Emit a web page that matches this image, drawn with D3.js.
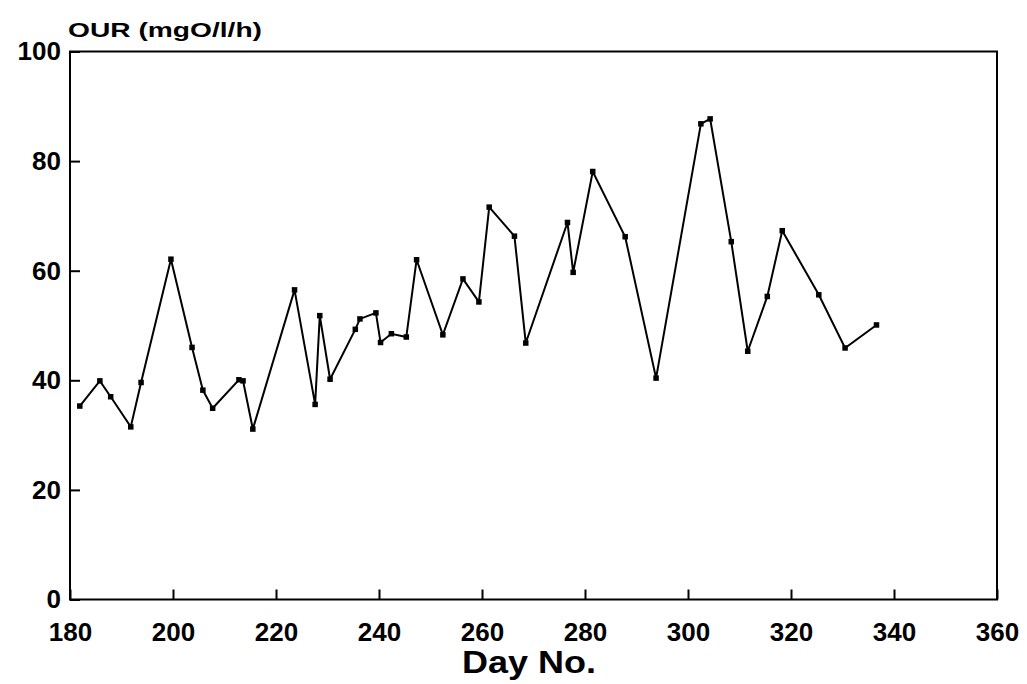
<!DOCTYPE html>
<html>
<head>
<meta charset="utf-8">
<script src="https://cdn.jsdelivr.net/npm/d3@7"></script>
<style>
  html, body { margin: 0; padding: 0; background: #fff; }
  svg { display: block; }
  .axis text { font-family: "Liberation Sans", Arial, sans-serif; font-weight: bold; font-size: 26px; fill: #000; }
  .axis path, .axis line { stroke: #000; stroke-width: 2px; }
</style>
</head>
<body>
<svg id="chart" width="1027" height="684"></svg>
<script>
// Data
const days = [181.9, 185.8, 187.9, 191.8, 193.8, 199.6, 203.7, 205.8, 207.7, 212.8, 213.6, 215.5,
  223.6, 227.6, 228.5, 230.5, 235.4, 236.3, 239.4, 240.3, 242.4, 245.3, 247.3, 252.4, 256.3, 259.4,
  261.4, 266.3, 268.5, 276.6, 277.7, 281.5, 287.8, 293.8, 302.5, 304.3, 308.4, 311.6, 315.4, 318.3,
  325.4, 330.5, 336.6];
const our = [35.3, 39.9, 37.0, 31.5, 39.6, 62.1, 46.0, 38.2, 34.9, 40.1, 39.9, 31.1, 56.5, 35.6, 51.8, 40.2,
  49.3, 51.2, 52.3, 46.9, 48.5, 47.9, 62.0, 48.3, 58.5, 54.3, 71.6, 66.3, 46.8, 68.8, 59.7, 78.1, 66.2,
  40.4, 86.8, 87.7, 65.3, 45.3, 55.3, 67.3, 55.6, 45.9, 50.1];
const xTicks = [180, 200, 220, 240, 260, 280, 300, 320, 340, 360];
const yTicks = [0, 20, 40, 60, 80, 100];
const yTitle = "OUR (mgO/l/h)";
const xTitle = "Day No.";

(function () {
const svg = d3.select("#chart");
const mLeft = 70, mRight = 997, mTop = 51.5, mBottom = 599.5;
const x = d3.scaleLinear().domain([180, 360]).range([mLeft, mRight]);
const y = d3.scaleLinear().domain([0, 100]).range([mBottom, mTop]);

// frame
svg.append("rect")
  .attr("x", mLeft).attr("y", mTop)
  .attr("width", mRight - mLeft).attr("height", mBottom - mTop)
  .attr("fill", "none").attr("stroke", "#000").attr("stroke-width", 2);

// x axis
const gx = svg.append("g").attr("class", "axis")
  .attr("transform", `translate(0,${mBottom})`)
  .call(d3.axisBottom(x).tickValues(xTicks).tickFormat(d3.format("d"))
    .tickSizeInner(-10).tickSizeOuter(0).tickPadding(23));
gx.select(".domain").remove();
gx.selectAll(".tick line").attr("stroke-width", 1.5);

// y axis
const gy = svg.append("g").attr("class", "axis")
  .attr("transform", `translate(${mLeft},0)`)
  .call(d3.axisLeft(y).tickValues(yTicks).tickFormat(d3.format("d"))
    .tickSizeInner(-10).tickSizeOuter(0).tickPadding(9));
gy.select(".domain").remove();
gy.selectAll(".tick line").attr("stroke-width", 1.5);

// data line
const pts = days.map((d, i) => [d, our[i]]);
svg.append("path")
  .datum(pts)
  .attr("fill", "none")
  .attr("stroke", "#000")
  .attr("stroke-width", 2)
  .attr("stroke-linejoin", "miter")
  .attr("d", d3.line().x(d => x(d[0])).y(d => y(d[1])));

// markers
svg.append("g").selectAll("rect")
  .data(pts)
  .join("rect")
  .attr("x", d => x(d[0]) - 2.75)
  .attr("y", d => y(d[1]) - 2.75)
  .attr("width", 5.5).attr("height", 5.5)
  .attr("fill", "#000");

// titles
svg.append("text")
  .attr("x", 68).attr("y", 37)
  .attr("font-family", "Liberation Sans, Arial, sans-serif")
  .attr("font-weight", "bold").attr("font-size", 21)
  .attr("textLength", 194).attr("lengthAdjust", "spacingAndGlyphs")
  .text(yTitle);

svg.append("text")
  .attr("x", 462).attr("y", 673)
  .attr("font-family", "Liberation Sans, Arial, sans-serif")
  .attr("font-weight", "bold").attr("font-size", 32)
  .attr("textLength", 134).attr("lengthAdjust", "spacingAndGlyphs")
  .text(xTitle);
})();
</script>
</body>
</html>
